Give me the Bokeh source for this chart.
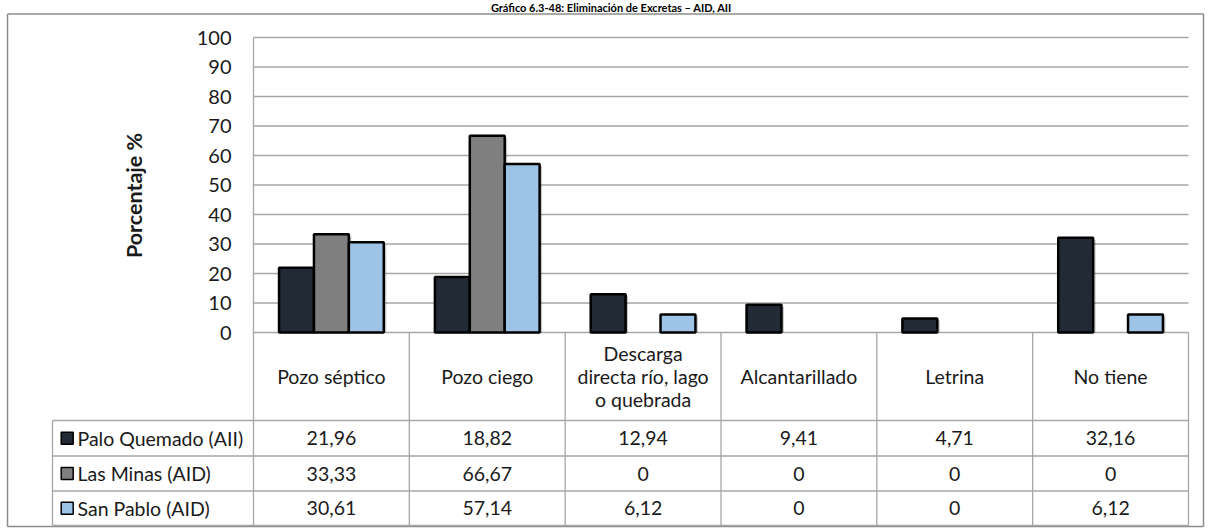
import math
from bokeh.plotting import figure
from bokeh.models import Range1d, ColumnDataSource
from bokeh.core.properties import value
from bokeh.embed import file_html
from bokeh.resources import INLINE

# ---------------- data ----------------
title = "Gráfico 6.3-48: Eliminación de Excretas – AID, AII"
categories = ["Pozo séptico", "Pozo ciego", "Descarga\ndirecta río, lago\no quebrada",
              "Alcantarillado", "Letrina", "No tiene"]
series_names = ["Palo Quemado (AII)", "Las Minas (AID)", "San Pablo (AID)"]
palo_quemado = [21.96, 18.82, 12.94, 9.41, 4.71, 32.16]
las_minas = [33.33, 66.67, 0, 0, 0, 0]
san_pablo = [30.61, 57.14, 6.12, 0, 0, 6.12]
y_ticks = [0, 10, 20, 30, 40, 50, 60, 70, 80, 90, 100]
y_label = "Porcentaje %"

# ---------------- styles / layout ----------------
colors = ["#222a35", "#7f7f7f", "#9dc3e6"]
FONT = value("Lato")
GRID_COLOR = "#a6a6a6"
BORDER_COLOR = "#8c8c8c"
TEXT_COLOR = "#1a1a1a"

W, H = 1210, 528
PLOT_L, PLOT_R = 253, 1188          # canvas px
Y0_PX, Y100_PX = 332, 37            # canvas px of value 0 / 100
TABLE_L = 52
HEADER_B = 420
ROW_B = [455.5, 490.5, 525]
BOX = (7, 13.5, 1203, 526)          # outer border l, t, r, b
N = len(categories)

XU = (PLOT_R - PLOT_L) / N
YU = (Y0_PX - Y100_PX) / 100.0


def dx(px):
    return -0.5 + (px - PLOT_L) / XU


def dy(py):
    return (Y0_PX - py) / YU


p = figure(width=W, height=H,
           x_range=Range1d(dx(0), dx(W)), y_range=Range1d(dy(H), dy(0)),
           x_axis_location=None, y_axis_location=None,
           min_border=0, toolbar_location=None, output_backend="svg")
p.grid.visible = False
p.outline_line_color = None
p.background_fill_color = "white"
p.border_fill_color = "white"

# outer chart border
bl, bt, br, bb = BOX
p.segment(x0=[dx(bl), dx(bl), dx(br), dx(bl)], x1=[dx(bl), dx(br), dx(br), dx(br)],
          y0=[dy(bt), dy(bt), dy(bt), dy(bb)], y1=[dy(bb), dy(bt), dy(bb), dy(bb)],
          line_color=BORDER_COLOR, line_width=1.5)

# title (kept small so it fits above the border)
p.text(x=[dx(611)], y=[dy(0.5)], text=[title],
       text_font=FONT, text_font_size="11px", text_font_style="bold", text_color="black",
       text_align="center", text_baseline="top")

# gridlines (incl. zero line)
p.segment(x0=[-0.5] * len(y_ticks), x1=[N - 0.5] * len(y_ticks), y0=y_ticks, y1=y_ticks,
          line_color=GRID_COLOR, line_width=1.3)
# left line of plot area
p.segment(x0=[-0.5], x1=[-0.5], y0=[0], y1=[max(y_ticks)], line_color=GRID_COLOR, line_width=1.3)

# table lines
col_x = [i - 0.5 for i in range(N + 1)]
p.segment(x0=col_x, x1=col_x, y0=[0] * len(col_x), y1=[dy(ROW_B[-1])] * len(col_x),
          line_color=GRID_COLOR, line_width=1.3)
p.segment(x0=[dx(TABLE_L)], x1=[dx(TABLE_L)], y0=[dy(HEADER_B)], y1=[dy(ROW_B[-1])],
          line_color=GRID_COLOR, line_width=1.3)
hy = [dy(HEADER_B)] + [dy(b) for b in ROW_B]
p.segment(x0=[dx(TABLE_L)] * len(hy), x1=[N - 0.5] * len(hy), y0=hy, y1=hy,
          line_color=GRID_COLOR, line_width=1.3)

# bars
series = [palo_quemado, las_minas, san_pablo]
BAR_W = 0.224
offsets = [-BAR_W, 0.0, BAR_W]
sh_dx = 2.5 / XU
sh_dy = 2.0 / YU
for vals, off in zip(series, offsets):
    xs = [i + off for i, v in enumerate(vals) if v > 0]
    tops = [v for v in vals if v > 0]
    src = ColumnDataSource(dict(sx=[x + sh_dx for x in xs], stop=[t - sh_dy for t in tops]))
    p.vbar(x="sx", top="stop", bottom=0, width=BAR_W, source=src,
           fill_color="black", fill_alpha=0.22, line_color=None)
for vals, off, col in zip(series, offsets, colors):
    xs = [i + off for i, v in enumerate(vals) if v > 0]
    tops = [v for v in vals if v > 0]
    src = ColumnDataSource(dict(x=xs, top=tops))
    p.vbar(x="x", top="top", bottom=0, width=BAR_W, source=src,
           fill_color=col, line_color="black", line_width=2.5)

# y tick labels
p.text(x=[dx(231)] * len(y_ticks), y=y_ticks, text=[str(t) for t in y_ticks],
       text_font=FONT, text_font_size="20px", text_color=TEXT_COLOR,
       text_align="right", text_baseline="middle")
# y axis title
p.text(x=[dx(133)], y=[dy(195)], text=[y_label], angle=math.pi / 2,
       text_font=FONT, text_font_size="21.5px", text_font_style="bold", text_color=TEXT_COLOR,
       text_align="center", text_baseline="middle")

# header labels
p.text(x=list(range(N)), y=[dy((Y0_PX + HEADER_B) / 2)] * N, text=categories,
       text_font=FONT, text_font_size="19.5px", text_color=TEXT_COLOR,
       text_align="center", text_baseline="middle", text_line_height=1.0)


def fmt(v):
    return "0" if v == 0 else f"{v:.2f}".replace(".", ",")


row_tops = [HEADER_B] + ROW_B[:-1]
row_c = [dy((a + b) / 2) for a, b in zip(row_tops, ROW_B)]
for r, vals in enumerate(series):
    p.text(x=list(range(N)), y=[row_c[r]] * N, text=[fmt(v) for v in vals],
           text_font=FONT, text_font_size="19.5px", text_color=TEXT_COLOR,
           text_align="center", text_baseline="middle")

# legend keys in table
p.scatter(x=[dx(66.7)] * 3, y=row_c, marker="square", size=12,
          fill_color=colors, line_color="black", line_width=1.5)
p.text(x=[dx(77)] * 3, y=row_c, text=series_names,
       text_font=FONT, text_font_size="19.5px", text_color=TEXT_COLOR,
       text_align="left", text_baseline="middle")

open("out.html", "w").write(file_html(p, INLINE))
